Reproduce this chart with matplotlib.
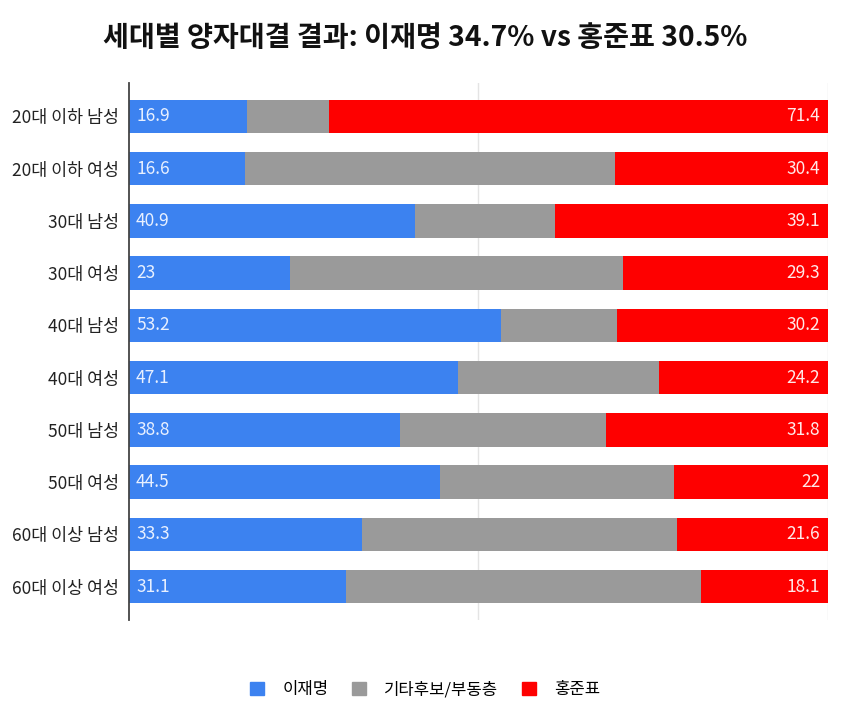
import numpy as np
import matplotlib
matplotlib.use("Agg")
import matplotlib.pyplot as plt
from matplotlib.patches import Patch

plt.rcParams['font.family'] = ['Noto Sans CJK KR', 'DejaVu Sans']

# data
groups = ["20대 이하 남성", "20대 이하 여성", "30대 남성", "30대 여성", "40대 남성",
          "40대 여성", "50대 남성", "50대 여성", "60대 이상 남성", "60대 이상 여성"]
lee = [16.9, 16.6, 40.9, 23, 53.2, 47.1, 38.8, 44.5, 33.3, 31.1]
hong = [71.4, 30.4, 39.1, 29.3, 30.2, 24.2, 31.8, 22, 21.6, 18.1]
series_names = ["이재명", "기타후보/부동층", "홍준표"]

lee = np.array(lee)
hong = np.array(hong)
other = 100 - lee - hong

c_blue = "#3c82f0"
c_gray = "#9a9a9a"
c_red = "#fe0000"

fig = plt.figure(figsize=(8.5, 7.22), dpi=100)
ax = fig.add_axes([0.1518, 0.1413, 0.8222, 0.7437])

y = np.arange(len(groups))
h = 0.64
ax.barh(y, lee, height=h, color=c_blue, zorder=3)
ax.barh(y, other, left=lee, height=h, color=c_gray, zorder=3)
ax.barh(y, hong, left=lee + other, height=h, color=c_red, zorder=3)

for i in range(len(groups)):
    ax.text(1.0, y[i], f"{lee[i]:g}", color="#e8f0ff", fontsize=12.5,
            va="center", ha="left", zorder=4)
    ax.text(98.9, y[i], f"{hong[i]:g}", color="#ffe8e8", fontsize=12.5,
            va="center", ha="right", zorder=4)

ax.set_xlim(0, 100)
ax.set_ylim(len(groups) - 1 + 0.64, -0.64)
ax.set_yticks(y)
ax.set_yticklabels(groups, fontsize=12.5, color="#222222")
ax.set_xticks([50, 100])
ax.tick_params(axis="x", length=0, labelbottom=False)
ax.tick_params(axis="y", length=0, pad=7)
ax.grid(axis="x", color="#e4e4e4", linewidth=1, zorder=0)
for s in ["top", "right", "bottom"]:
    ax.spines[s].set_visible(False)
ax.spines["left"].set_color("#444444")
ax.spines["left"].set_linewidth(1.3)
ax.spines["left"].set_zorder(5)

fig.text(0.5, 0.947, "세대별 양자대결 결과: 이재명 34.7% vs 홍준표 30.5%",
         ha="center", va="center", fontsize=20.3, fontweight="bold", color="#111111")

handles = [Patch(color=c) for c in [c_blue, c_gray, c_red]]
fig.legend(handles, series_names, loc="center", bbox_to_anchor=(0.5, 0.045),
           ncol=3, frameon=False, fontsize=12, handlelength=0.85, handleheight=0.85,
           handletextpad=1.1, columnspacing=1.4)

fig.savefig("out.png", dpi=100)
